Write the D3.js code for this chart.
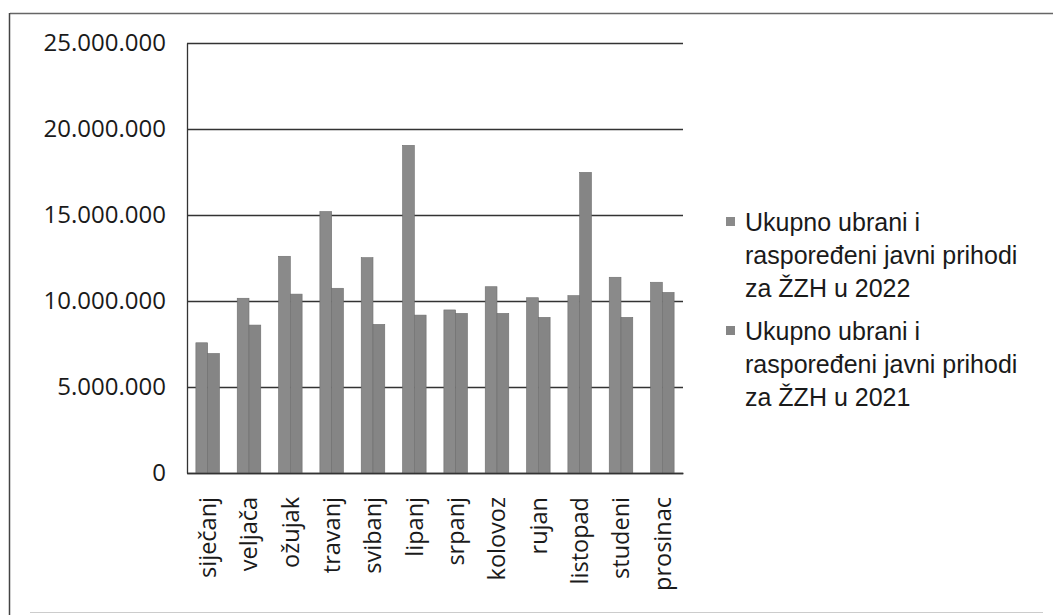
<!DOCTYPE html>
<html>
<head>
<meta charset="utf-8">
<script src="https://cdn.jsdelivr.net/npm/d3@7"></script>
<style>
  body { margin: 0; background: #fff; }
  svg { display: block; }
</style>
</head>
<body>
<div id="chart"></div>
<script>
// data
var months = ["siječanj", "veljača", "ožujak", "travanj", "svibanj", "lipanj",
              "srpanj", "kolovoz", "rujan", "listopad", "studeni", "prosinac"];
var prihodi2022 = [7570000, 10160000, 12600000, 15200000, 12520000, 19050000,
                   9480000, 10830000, 10190000, 10310000, 11380000, 11090000];
var prihodi2021 = [6950000, 8600000, 10400000, 10740000, 8640000, 9180000,
                   9280000, 9280000, 9050000, 17480000, 9050000, 10500000];
var yTicks = [0, 5000000, 10000000, 15000000, 20000000, 25000000];
var seriesNames = [
  ["Ukupno ubrani i", "raspoređeni javni prihodi", "za ŽZH u 2022"],
  ["Ukupno ubrani i", "raspoređeni javni prihodi", "za ŽZH u 2021"]
];

var W = 1053, H = 615;
var margin = {top: 43, right: 370, bottom: 142, left: 187};
var width = W - margin.left - margin.right,
    height = H - margin.top - margin.bottom;

var svg = d3.select("#chart").append("svg")
    .attr("width", W)
    .attr("height", H);

// outer frame of the scan
svg.append("line").attr("x1", 10).attr("x2", W).attr("y1", 13.5).attr("y2", 13.5)
    .attr("stroke", "#666").attr("stroke-width", 1.5);
svg.append("line").attr("x1", 9.5).attr("x2", 9.5).attr("y1", 13).attr("y2", H)
    .attr("stroke", "#444").attr("stroke-width", 1.5);
svg.append("line").attr("x1", 30).attr("x2", W - 10).attr("y1", 612.5).attr("y2", 612.5)
    .attr("stroke", "#ccc").attr("stroke-width", 1);

var g = svg.append("g")
    .attr("transform", "translate(" + margin.left + "," + margin.top + ")");

var x0 = d3.scaleBand().domain(months).range([0, width]).paddingInner(0.43).paddingOuter(0.215);
var x1 = d3.scaleBand().domain([0, 1]).range([0, x0.bandwidth()]);
var y = d3.scaleLinear().domain([0, 25000000]).range([height, 0]);

var fmt = function(v) { return d3.format(",")(v).replace(/,/g, "."); };

// gridlines
g.selectAll(".grid").data(yTicks).enter().append("line")
    .attr("x1", 0).attr("x2", width)
    .attr("y1", function(d){ return Math.round(y(d)) + 0.5; })
    .attr("y2", function(d){ return Math.round(y(d)) + 0.5; })
    .attr("stroke", "#333").attr("stroke-width", 1.3);

// y axis
var yAxis = g.append("g")
    .call(d3.axisLeft(y).tickValues(yTicks).tickFormat(fmt).tickSize(0).tickPadding(21));
yAxis.select(".domain").attr("stroke", "#333").attr("stroke-width", 1.3);
yAxis.selectAll("text")
    .style("font-family", "'Open Sans', sans-serif")
    .style("font-size", "24px")
    .attr("fill", "#1a1a1a");

// bars
var groups = g.selectAll(".month").data(months).enter().append("g")
    .attr("transform", function(d){ return "translate(" + x0(d) + ",0)"; });

groups.selectAll("rect")
    .data(function(d, i){ return [prihodi2022[i], prihodi2021[i]]; })
    .enter().append("rect")
    .attr("x", function(d, j){ return x1(j); })
    .attr("y", function(d){ return y(d); })
    .attr("width", x1.bandwidth())
    .attr("height", function(d){ return height - y(d); })
    .attr("fill", function(d, j){ return j === 0 ? "#8a8a8a" : "#858585"; })
    .attr("stroke", "#6e6e6e").attr("stroke-width", 0.6);

// x axis labels (rotated)
var xAxis = g.append("g")
    .attr("transform", "translate(0," + height + ")")
    .call(d3.axisBottom(x0).tickSize(0));
xAxis.select(".domain").attr("stroke", "#333").attr("stroke-width", 1.3);
xAxis.selectAll("text")
    .style("font-family", "'Open Sans', sans-serif")
    .style("font-size", "23.5px")
    .attr("fill", "#1a1a1a")
    .attr("transform", "rotate(-90)")
    .attr("x", -24)
    .attr("y", 0)
    .attr("dy", "0.35em")
    .style("text-anchor", "end");

// legend
var legend = svg.append("g").attr("transform", "translate(726,0)");
var legendTop = [222, 331];
seriesNames.forEach(function(lines, k) {
    legend.append("rect")
        .attr("x", 0).attr("y", legendTop[k] - 5)
        .attr("width", 9).attr("height", 9)
        .attr("fill", k === 0 ? "#8a8a8a" : "#858585");
    lines.forEach(function(t, i) {
        legend.append("text")
            .attr("x", 19)
            .attr("y", legendTop[k] + i * 33)
            .attr("dy", "0.35em")
            .style("font-family", "'Liberation Sans', Arial, sans-serif")
            .style("font-size", "25px")
            .attr("fill", "#1a1a1a")
            .text(t);
    });
});
</script>
</body>
</html>
